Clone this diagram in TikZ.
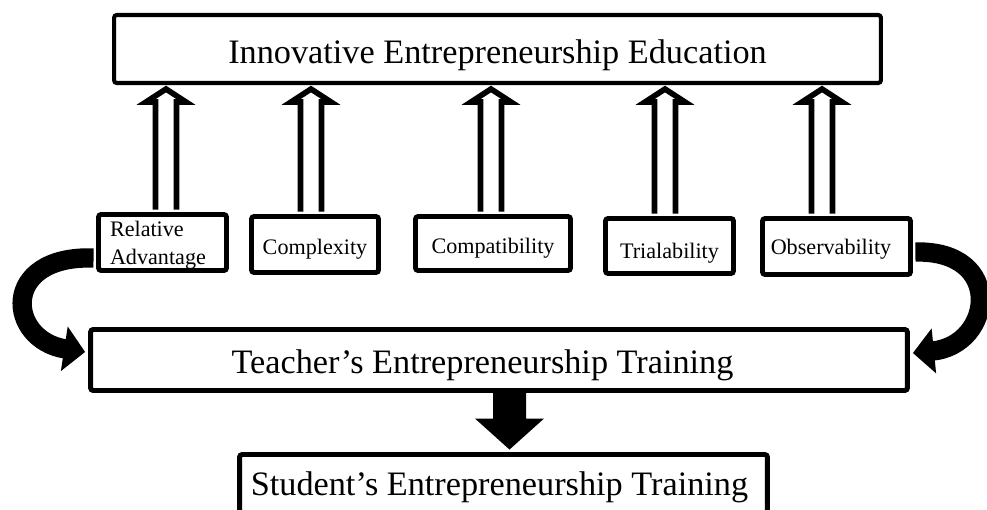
\documentclass[tikz,border=0pt]{standalone}
\usepackage{fontspec}
\setmainfont{Liberation Serif}
\usetikzlibrary{arrows.meta,calc}

\newcommand{\liftarrow}[2]{%
    \draw[lift] ($(#1.north)+(#2-10.5,-2.5)$)
	-- ($(#1.north |- top.south)+(#2-10.5,17)$)
	-- ($(#1.north |- top.south)+(#2-20,17)$)
	-- ($(#1.north |- top.south)+(#2,4)$)
	-- ($(#1.north |- top.south)+(#2+20,17)$)
	-- ($(#1.north |- top.south)+(#2+10.5,17)$)
	-- ($(#1.north)+(#2+10.5,-2.5)$);
}

\begin{document}
\begin{tikzpicture}[x=0.02cm, y=-0.02cm,
    big/.style={draw, line width=2.8pt, rounded corners=1.5pt, inner sep=0pt,
	font=\fontsize{19.5}{23}\selectfont},
    factor/.style={draw, line width=2.8pt, rounded corners=1.5pt, inner sep=0pt,
	minimum height=1.12cm, font=\fontsize{12.6}{16.5}\selectfont},
    flat/.style={text height=0.42cm, text depth=0pt},
    lift/.style={draw, fill=white, line width=3.2pt, line join=miter},
    swoop/.style={line width=11pt, -{Triangle[length=12pt, width=25pt]}}]
    \useasboundingbox (0, 0) rectangle (987, 510);
    \clip (0, 0) rectangle (987, 510);
    \node [big, line width=2.3pt, minimum width=15.34cm, minimum height=1.36cm,
	text height=0.6cm, text depth=0pt] (top) at (497.5, 49)
	{Innovative Entrepreneurship Education};
    \node [factor, minimum width=2.56cm, text width=2.1cm, align=left,
	text height=0.3cm, text depth=0.56cm] (rel) at (162.5, 242.5)
	{Relative\\Advantage};
    \node [factor, flat, minimum width=2.54cm] (cplx) at (315, 244.5)
	{Complexity};
    \node [factor, flat, minimum width=3.10cm, minimum height=1.08cm] (compat)
	at (493, 243.5) {Compatibility};
    \node [factor, flat, minimum width=2.56cm, minimum height=1.10cm,
	text height=0.52cm] (trial) at (669.5, 246) {Trialability};
    \node [factor, flat, minimum width=2.96cm, text height=0.34cm] (obs)
	at (836.5, 246.5) {Observability\hspace*{0.22cm}};
    \node [big, minimum width=16.34cm, minimum height=1.22cm,
	text height=0.52cm, text depth=0pt] (teacher) at (499, 360)
	{Teacher's Entrepreneurship Training\hspace*{0.66cm}};
    \node [big, minimum width=10.56cm, minimum height=1.51cm,
	text height=0.5cm, text depth=0.39cm] (student) at (503.5, 492.25)
	{Student's Entrepreneurship Training\hspace*{0.16cm}};
    \liftarrow{rel}{3.5}
    \liftarrow{cplx}{-4}
    \liftarrow{compat}{-2}
    \liftarrow{trial}{-4.5}
    \liftarrow{obs}{-14.5}
    \coordinate (drop) at ($(student.north)+(6,-2.5)$);
    \fill (drop) -- ($(drop)+(-34.5,-31)$) -- ($(drop)+(-16.5,-31)$)
	-- ($(drop |- teacher.south)+(-16.5,0)$)
	-- ($(drop |- teacher.south)+(16.5,0)$)
	-- ($(drop)+(16.5,-31)$) -- ($(drop)+(34.5,-31)$) -- cycle;
    \draw [swoop] ($(rel.west)+(-2.5,15.5)$) .. controls +(-94,-3) and +(-78,-12)
	.. ($(teacher.west)+(-3,-8)$);
    \draw [swoop] ($(obs.east)+(2.5,5.5)$) .. controls +(90,-2) and +(80,-8)
	.. ($(teacher.east)+(3,-7)$);
\end{tikzpicture}
\end{document}
